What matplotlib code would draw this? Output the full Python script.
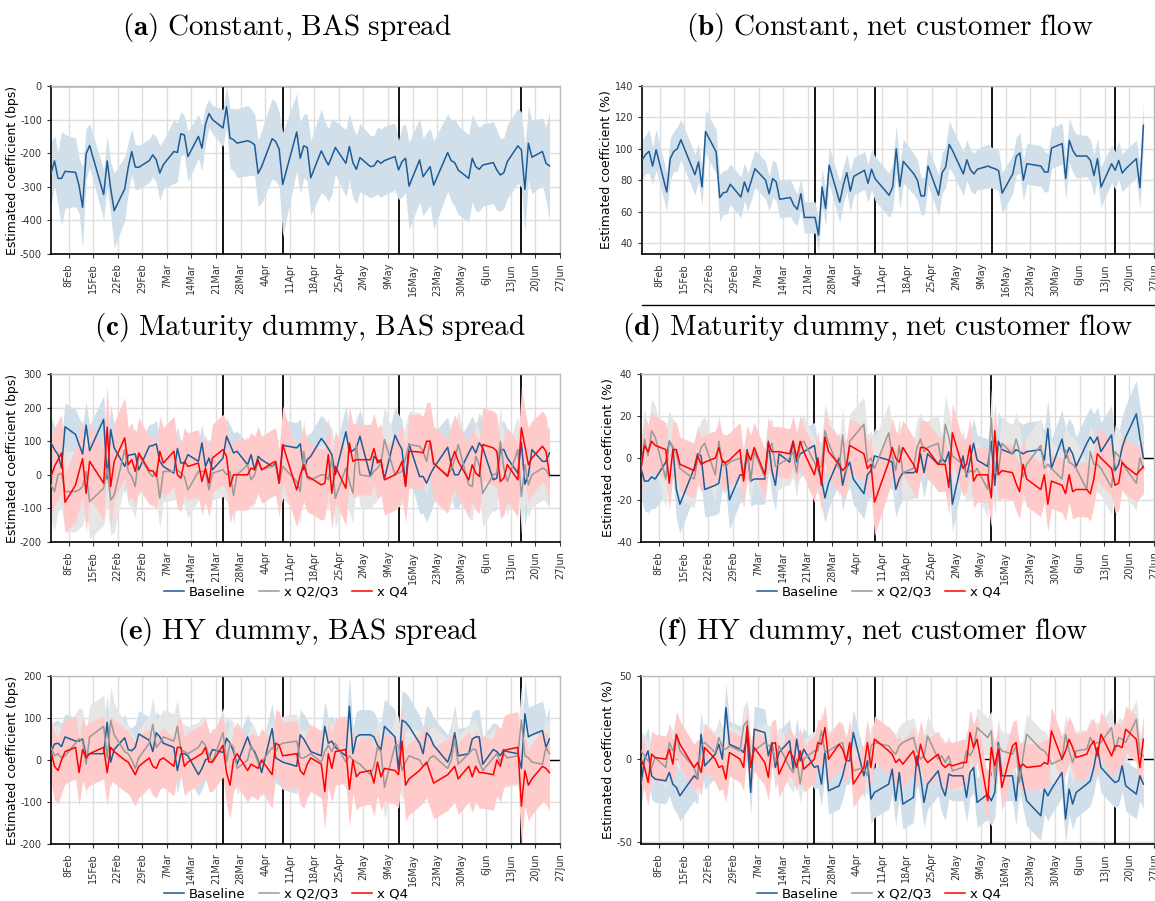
import matplotlib
matplotlib.use("Agg")
import matplotlib.pyplot as plt
from matplotlib.lines import Line2D
import numpy as np
import pandas as pd

plt.rcParams['mathtext.fontset'] = 'cm'
plt.rcParams['axes.unicode_minus'] = False

# trading days, 3 Feb - 24 Jun 2020 (no 17 Feb, 10 Apr, 25 May)
dates = pd.bdate_range("2020-02-03", "2020-06-24")
dates = dates[~dates.isin(pd.to_datetime(["2020-02-17", "2020-04-10", "2020-05-25"]))]
events = pd.to_datetime(["2020-03-23", "2020-04-09", "2020-05-12", "2020-06-16"])
ticks = pd.date_range("2020-02-08", "2020-06-27", freq="7D")
tick_labels = [f"{d.day}{d.strftime('%b')}" for d in ticks]

# (a) constant, BAS spread
a_coef = [-261, -223, -275, -275, -254, -257, -297, -361, -202, -177,
          -323, -223, -305, -371, -306, -242, -195, -241, -242,
          -222, -205, -220, -259, -234, -195, -198, -142, -146, -210,
          -150, -185, -115, -82, -100, -125, -62, -155, -160, -170,
          -163, -167, -175, -260, -240, -157, -165, -188, -293,
          -137, -215, -178, -183, -273, -193, -215, -235, -210, -183,
          -230, -180, -228, -248, -213, -240, -238, -222, -230, -222,
          -210, -250, -225, -215, -298, -220, -270, -255, -240, -295,
          -198, -222, -228, -250, -275, -215, -240, -248, -235,
          -228, -250, -265, -258, -225, -178, -190, -308, -170, -212,
          -195, -230, -238]
a_hw = [95, 75, 80, 140, 110, 102, 82, 120, 75, 65,
        75, 75, 78, 112, 95, 75, 68, 68, 65,
        65, 65, 68, 82, 72, 95, 88, 65, 58, 75,
        65, 68, 55, 42, 42, 55, 60, 90, 92, 102,
        105, 98, 92, 98, 108, 120, 118, 110, 155,
        115, 105, 95, 100, 110, 125, 110, 108, 112, 78,
        100, 100, 105, 102, 102, 92, 90, 100, 102, 102,
        100, 88, 105, 102, 130, 125, 115, 115, 115, 132,
        115, 120, 130, 132, 130, 130, 132, 125, 122,
        122, 120, 108, 105, 110, 112, 112, 130, 110, 108,
        100, 108, 162]

# (b) constant, net customer flow
b_coef = [92.7, 96.3, 98.4, 89, 99.4, 72.5, 93.7, 98.4, 100, 105.8,
          83.5, 91.6, 75.7, 111, 98, 68.9, 72, 72.5, 77.4,
          69.3, 78.9, 72.5, 80, 87.3, 80, 71.4, 81, 79, 67.8,
          69, 64, 61.4, 71.4, 56.3, 56.3, 45, 75.7, 62, 89.5,
          66, 76.7, 84.8, 73, 82.5, 86.3, 78, 87, 81,
          70.4, 75.7, 100, 76, 92, 84, 80, 70, 70, 89,
          70.4, 84.8, 88.4, 102.8, 98.6, 84, 93, 86.7, 84, 87,
          89, 88, 87.3, 86, 71.8, 84, 95.2, 97.3, 80, 90.5,
          89, 85.2, 85.2, 100.5, 103.3, 81, 105.4, 99, 95.4,
          95.4, 92.6, 83, 93.7, 75.7, 90.5, 86.3, 92.6, 84.6, 87.3,
          93.7, 75.2, 115]
b_hw = [13, 12, 14, 12, 13, 12, 13, 13, 14, 13,
        13, 12, 12, 14, 14, 15, 14, 14, 13,
        13, 12, 12, 12, 12, 12, 11, 12, 12, 12,
        12, 11, 10, 10, 10, 10, 11, 12, 11, 12,
        13, 12, 12, 13, 12, 12, 12, 13, 14,
        14, 15, 15, 14, 14, 13, 13, 12, 12, 12,
        13, 13, 13, 15, 14, 14, 13, 13, 13, 13,
        14, 13, 13, 13, 13, 12, 12, 13, 13, 13,
        13, 13, 12, 13, 13, 13, 14, 14, 14,
        13, 13, 13, 13, 13, 12, 12, 12, 12, 12,
        12, 14, 15]

# (c) maturity dummy, BAS spread
c_base = [95, 75, 60, 20, 143, 120, 90, 62, 148, 72,
          165, -12, 135, 80, 25, 58, 60, 62, 15,
          85, 87, 92, 40, 25, 5, 78, 35, 35, 60,
          40, 95, 25, 50, 15, 50, 115, 90, 65, 70,
          30, 60, 15, 55, 45, 25, 35, -25, 88,
          80, 92, 15, 45, 55, 108, 95, 78, 60, 0,
          128, 68, 72, 80, 115, -5, 55, 45, 35, -12,
          118, 95, 75, -30, 92, -5, -5, -25, 0, 20,
          82, 30, 0, 0, 65, 85, 65, 95, 80,
          -15, -10, 75, 75, 50, 5, 97, -28, 0, 75,
          40, 40, 65]
c_mid = [-30, -50, 0, 5, -50, -50, -45, -35, 10, -80,
         -40, 20, -75, -60, 75, 10, -5, -35, 60,
         5, -5, 10, -70, 10, 10, 15, 5, -5, -45,
         10, 10, 10, -45, 5, 15, 0, 10, -62, 0,
         30, -15, 0, 40, 15, 25, 30, -25, 25,
         -20, -50, 70, -10, -15, 0, 0, -15, 50, -70,
         20, -20, -55, 90, 0, -5, 10, 20, 35, 105,
         0, 5, 10, 50, 90, 85, 70, 40, 100, 30,
         0, 15, 45, 90, -30, -35, 55, 30, -55,
         0, 5, 100, 20, -20, 75, -65, 30, -30, 0,
         20, 15, -5]
c_q4 = [-5, 25, 45, 65, -82, -30, 10, 48, -55, 40,
        -25, 142, -35, 40, 110, 30, 45, 10, 65,
        12, 12, -5, 70, 35, 70, 0, -10, 40, 25,
        35, -20, 20, -25, 50, 75, 55, -35, 0, 0,
        0, 20, 15, 45, 15, 35, 40, -25, 90,
        -45, 0, 30, -5, -10, -30, -25, 60, -55, 25,
        -40, 95, 40, 45, 45, 45, 78, 35, 45, -15,
        0, 15, 40, -35, 70, 68, 65, 100, 100, 35,
        -5, 40, 70, 40, -15, 30, 5, -5, 90,
        80, 70, -20, -10, 30, -15, 140, 85, 30, 50,
        85, 70, 0]
c_base_hw = [75, 70, 80, 90, 70, 75, 80, 85, 70, 75,
             70, 90, 75, 70, 80, 70, 70, 75, 80,
             65, 65, 70, 75, 70, 75, 65, 65, 60, 60,
             60, 55, 60, 55, 60, 65, 55, 60, 60, 60,
             65, 60, 60, 60, 60, 60, 65, 70, 75,
             75, 75, 80, 75, 70, 70, 70, 75, 75, 80,
             75, 75, 70, 80, 80, 80, 75, 80, 80, 85,
             85, 85, 90, 95, 95, 110, 110, 115, 115, 105,
             90, 95, 100, 100, 90, 90, 85, 90, 85,
             95, 90, 85, 85, 85, 85, 95, 125, 90, 80,
             85, 85, 80]
c_mid_hw = [110, 115, 110, 105, 120, 120, 115, 115, 110, 110,
            110, 105, 105, 110, 100, 95, 95, 95, 95,
            90, 90, 85, 90, 90, 85, 85, 85, 85, 85,
            85, 80, 80, 80, 80, 80, 80, 80, 85, 85,
            85, 85, 85, 85, 85, 90, 90, 90, 95,
            95, 95, 95, 90, 90, 90, 90, 90, 90, 90,
            90, 90, 90, 95, 95, 95, 95, 95, 95, 100,
            100, 100, 100, 100, 100, 100, 100, 100, 100, 100,
            100, 100, 100, 100, 100, 100, 100, 100, 100,
            100, 100, 100, 100, 100, 100, 110, 100, 95, 95,
            95, 95, 95]
c_q4_hw = [110, 115, 115, 115, 90, 110, 110, 115, 115, 110,
           110, 125, 120, 115, 120, 110, 110, 105, 105,
           100, 100, 100, 105, 105, 105, 100, 100, 100, 100,
           100, 100, 100, 100, 100, 105, 105, 110, 105, 105,
           105, 105, 100, 100, 100, 100, 100, 100, 115,
           110, 110, 110, 105, 105, 105, 105, 110, 110, 105,
           110, 110, 110, 110, 105, 105, 105, 105, 105, 105,
           105, 110, 110, 110, 110, 110, 110, 115, 115, 110,
           110, 110, 110, 110, 110, 110, 110, 110, 110,
           110, 110, 110, 110, 110, 110, 120, 110, 110, 110,
           105, 105, 100]

# (d) maturity dummy, net customer flow
d_base = [-5, -11, -11, -9, -10, -2, 8, 5, -15, -22,
          -5, 2, 1, -15, -13, -12, -1, -3, -20,
          -8, -8, 4, -11, -10, -10, 8, -6, -13, 2,
          -2, 8, -2, 2, 3, 6, -5, -10, -19, -12,
          0, -13, -5, -2, -10, -17, -8, -6, 1,
          -1, -2, -15, -10, -7, -7, -6, 2, -7, 2,
          -3, 0, -2, 3, -22, 1, -9, -1, 7, -1,
          -4, 8, -13, 8, 4, 2, 4, 3, 2, 3,
          4, -1, 14, -5, 9, 0, 5, 2, -4,
          7, 10, 7, 10, 3, 11, -6, -3, 5, 10,
          21, 10, 0]
d_mid = [-5, 9, 1, 13, 10, -10, 8, 5, 2, -5,
         -10, -1, 5, 7, -8, 8, -3, -4, -2,
         0, -10, 3, -11, 3, -9, 4, 7, -4, -3,
         0, 3, -7, 7, 8, -2, -5, -4, 13, 7,
         -5, 11, -7, 8, 10, 16, -2, 0, -5,
         12, 1, -6, 6, -7, -5, 5, 9, 3, 5,
         7, -2, 16, 10, 1, -3, -8, -6, -7, -5,
         -15, 19, -7, -7, 7, 2, 9, 3, -9, -3,
         6, -5, -3, -5, -10, 4, -2, -3, -5,
         -15, 3, -3, -3, -5, -14, 3, 1, -2, -5,
         -12, 0, -5]
d_q4 = [-5, 6, 3, 8, 6, 4, -12, 4, 4, -3,
        -6, 1, -3, -2, 0, 5, -2, -2, -1,
        4, -11, 3, -1, 5, -8, 7, 3, 3, 3,
        2, 8, 0, 8, 3, -8, 0, -13, 10, 3,
        -3, -6, -4, 6, 5, 2, -5, -3, -21,
        -2, 5, 0, -2, 5, -3, -7, 5, 5, 4,
        -3, -3, -3, -14, 12, -5, -3, 6, -11, -8,
        -8, -19, 13, -8, -6, -7, -12, -16, -3, -10,
        -15, -8, -22, -11, -13, -17, -8, -16, -15,
        -15, -17, -10, 2, 0, -5, -13, -12, -2, -4,
        -8, -6, -4]
d_base_hw = [14, 14, 15, 15, 14, 15, 14, 13, 14, 14,
             13, 13, 13, 13, 14, 14, 13, 13, 14,
             13, 13, 12, 12, 12, 12, 12, 12, 12, 12,
             11, 11, 11, 11, 11, 11, 11, 12, 12, 12,
             12, 12, 12, 12, 12, 12, 12, 13, 13,
             13, 13, 13, 13, 13, 12, 12, 12, 12, 12,
             12, 12, 12, 12, 13, 12, 12, 12, 12, 12,
             13, 14, 14, 14, 14, 14, 14, 14, 14, 14,
             14, 14, 14, 14, 14, 14, 14, 14, 14,
             14, 14, 14, 14, 14, 14, 14, 15, 15, 15,
             16, 15, 15]
d_mid_hw = [14, 15, 14, 15, 15, 14, 14, 14, 14, 14,
            14, 13, 13, 13, 13, 13, 13, 13, 13,
            13, 13, 12, 12, 12, 12, 12, 12, 12, 12,
            12, 12, 12, 12, 12, 12, 12, 12, 13, 13,
            13, 13, 13, 13, 13, 13, 13, 13, 14,
            14, 14, 13, 13, 13, 13, 13, 13, 13, 13,
            13, 13, 14, 13, 13, 13, 13, 13, 13, 13,
            13, 14, 13, 13, 13, 13, 13, 13, 13, 13,
            13, 13, 13, 13, 13, 13, 13, 13, 13,
            13, 13, 13, 13, 13, 13, 13, 13, 13, 13,
            13, 13, 13]
d_q4_hw = [13, 13, 13, 14, 14, 13, 13, 13, 13, 13,
           13, 13, 13, 13, 13, 13, 13, 13, 13,
           13, 13, 12, 12, 12, 12, 12, 12, 12, 12,
           12, 12, 12, 12, 12, 13, 13, 13, 13, 13,
           13, 13, 13, 13, 13, 13, 13, 13, 16,
           14, 14, 13, 13, 13, 13, 13, 13, 13, 13,
           13, 13, 13, 13, 14, 13, 13, 13, 13, 13,
           13, 14, 14, 13, 13, 13, 13, 13, 13, 13,
           13, 13, 13, 13, 13, 13, 13, 13, 13,
           13, 13, 13, 13, 13, 13, 13, 13, 13, 13,
           13, 13, 13]

# (e) HY dummy, BAS spread
e_base = [20, 38, 40, 32, 55, 45, 45, 50, 10, 15,
          15, 90, -5, 25, 53, 25, 22, 30, 62,
          47, 20, 65, 55, 40, 30, -25, 15, 15, 10,
          -35, -20, 0, 5, 25, 18, 52, 40, 20, -10,
          55, 30, 20, 0, -30, 75, 5, 0, -5,
          -15, 60, 50, 35, 20, 10, 80, 40, 45, 30,
          10, 128, 15, 55, 60, 60, 55, 35, 25, 80,
          55, -25, 95, 90, 80, 40, 15, 65, 55, 35,
          -5, 20, 65, 10, 15, 50, 55, 55, -10,
          25, 20, 10, 25, 20, 15, -20, 110, 55, 60,
          70, 30, 50]
e_mid = [30, 10, 15, 5, 10, 40, 50, 45, -10, 55,
         80, 5, 95, 60, 20, 15, 0, -20, 5,
         40, 85, 30, 40, 55, 45, 80, 25, 20, 15,
         30, 45, 35, 10, -5, 65, -5, 40, 30, -20,
         0, 35, 15, -5, -5, 30, 20, 35, 40,
         45, 5, 5, 10, 15, -5, 20, 35, 20, 40,
         -5, 10, 0, -5, -10, -35, -15, 30, 20, -65,
         35, 35, -25, -5, 10, 0, -15, -10, 5, 10,
         -20, 0, 50, -10, 15, 25, 25, -5, -25,
         5, 15, -5, 15, 5, 10, 95, 10, 5, -5,
         -10, 30, 15]
e_q4 = [20, -15, -25, 0, 20, 30, -30, 25, 5, 15,
        30, -30, 30, 20, 0, -5, -20, -35, -15,
        5, -15, -20, 0, 5, -15, 30, 30, -15, -5,
        10, 15, 30, -5, -5, 35, -30, -60, 0, 15,
        -25, -10, -15, -20, 0, -35, 40, 35, 10,
        15, -25, -35, -10, 5, -10, -75, 15, -20, 20,
        25, -70, 0, -40, -30, -25, -55, -5, -40, -20,
        -25, -35, 45, -60, -45, -25, -15, -5, -30, -55,
        -35, -25, -15, -45, -15, -40, -15, -30, -30,
        -35, 0, -15, 20, 25, 30, -110, -25, -60, -45,
        -15, -20, -30]
e_base_hw = [60, 55, 55, 55, 55, 55, 55, 55, 60, 60,
             60, 65, 60, 55, 55, 55, 55, 55, 55,
             55, 55, 50, 50, 50, 50, 55, 55, 50, 50,
             50, 50, 50, 50, 50, 50, 50, 50, 55, 55,
             55, 55, 55, 55, 60, 60, 60, 60, 65,
             65, 60, 60, 60, 60, 60, 60, 60, 60, 60,
             60, 75, 60, 60, 60, 60, 60, 60, 65, 65,
             65, 70, 70, 70, 70, 65, 65, 65, 65, 65,
             65, 65, 65, 65, 65, 65, 65, 65, 65,
             65, 65, 65, 65, 65, 70, 70, 80, 70, 70,
             70, 70, 75]
e_mid_hw = [70, 70, 70, 70, 70, 70, 75, 75, 75, 75,
            75, 75, 80, 75, 70, 70, 70, 70, 70,
            65, 65, 65, 65, 65, 65, 65, 65, 65, 65,
            60, 60, 60, 60, 60, 60, 60, 60, 60, 60,
            60, 60, 60, 60, 60, 60, 60, 60, 65,
            65, 65, 65, 65, 65, 65, 65, 65, 65, 65,
            65, 65, 65, 65, 65, 65, 65, 65, 70, 75,
            70, 70, 70, 70, 70, 70, 70, 70, 70, 70,
            70, 70, 70, 70, 70, 70, 70, 70, 70,
            70, 70, 70, 70, 70, 70, 80, 70, 70, 70,
            70, 70, 70]
e_q4_hw = [75, 80, 80, 80, 75, 75, 80, 75, 75, 75,
           75, 80, 75, 75, 75, 75, 75, 75, 75,
           70, 70, 70, 70, 70, 70, 70, 70, 70, 70,
           70, 70, 70, 70, 70, 75, 75, 80, 75, 75,
           75, 75, 75, 75, 75, 80, 80, 80, 80,
           80, 80, 80, 80, 80, 80, 90, 80, 80, 80,
           80, 90, 80, 80, 80, 80, 80, 80, 80, 80,
           80, 80, 85, 85, 85, 85, 85, 85, 85, 85,
           85, 85, 85, 85, 85, 85, 85, 85, 85,
           85, 85, 85, 85, 85, 85, 95, 85, 85, 85,
           85, 85, 90]

# (f) HY dummy, net customer flow
f_base = [-15, 0, 5, -10, -12, -13, -8, -15, -17, -22,
          -10, -12, 15, -4, 3, 9, 0, 31, 9,
          6, 4, 14, -20, 18, 16, 2, 10, -5, 4,
          11, -6, 12, -1, 6, -5, -4, -15, 5, -19,
          -16, -10, -1, -1, 16, -10, -1, -24, -20,
          -15, -6, -25, -8, -27, -23, 2, -10, -26, -15,
          -7, -17, -22, -9, -10, -10, -23, -8, -5, -26,
          -21, -25, -20, 10, -10, -10, -25, -3, -15, -25,
          -34, -18, -22, -18, -8, -36, -18, -27, -20,
          -15, -13, -5, 7, -5, -12, -14, -13, -4, -16,
          -21, -10, -15]
f_mid = [5, 2, -1, -5, 1, -5, 10, 5, 14, 5,
         -5, -12, 8, 10, 4, 13, 7, 6, 8,
         5, 20, 23, 0, 5, 10, 8, 9, -2, 8,
         -5, -8, 0, -15, 0, 5, 5, 17, 4, 5,
         9, 10, -2, 5, -7, -5, -10, 8, 10,
         8, 5, 3, 8, 10, 13, 5, 0, 2, 14,
         0, 2, -2, 2, -7, -5, 5, 2, 6, 19,
         13, 17, -12, 8, 5, 3, 8, -14, 2, 15,
         6, 5, 2, -3, 0, 15, 5, -2, 5,
         6, 13, 9, 10, 10, 19, 5, 13, 12, 10,
         24, 3, 2]
f_q4 = [0, -5, -14, 3, 1, 0, 6, -3, 15, 9,
        -5, -2, -8, 7, 0, -5, -4, -12, 4,
        0, -5, 20, -5, 7, -2, -11, 9, 10, -9,
        5, 1, -5, 5, -6, 0, 10, 9, 19, 0,
        9, 6, -1, 10, -15, -5, 10, -5, 12,
        5, 3, -2, 0, -3, 5, -4, 9, 1, -2,
        3, -3, -5, -3, -4, -2, -2, 16, 7, 12,
        -25, 7, -4, 6, -17, 8, 10, -5, -3, -5,
        -4, -2, -3, 17, 0, 5, 12, 7, 1,
        3, 8, 11, 2, 15, 2, 8, 8, 7, 18,
        12, -5, 12]
f_base_hw = [14, 14, 14, 14, 14, 14, 14, 14, 15, 15,
             15, 15, 14, 14, 14, 14, 14, 15, 14,
             14, 14, 14, 14, 14, 14, 13, 13, 13, 13,
             13, 13, 13, 13, 13, 13, 13, 13, 13, 14,
             14, 14, 14, 14, 14, 14, 14, 15, 15,
             15, 15, 15, 15, 15, 15, 15, 15, 15, 15,
             15, 15, 15, 15, 15, 15, 15, 15, 15, 15,
             15, 15, 15, 15, 15, 15, 15, 15, 15, 15,
             15, 15, 15, 15, 15, 15, 15, 15, 15,
             15, 15, 15, 15, 15, 15, 15, 15, 15, 15,
             15, 15, 15]
f_mid_hw = [12, 12, 12, 12, 12, 12, 12, 12, 12, 12,
            12, 12, 12, 12, 12, 12, 12, 12, 12,
            12, 12, 12, 12, 12, 12, 12, 12, 12, 12,
            12, 12, 12, 12, 12, 12, 12, 12, 12, 12,
            12, 12, 12, 12, 12, 12, 12, 12, 12,
            12, 12, 12, 12, 12, 12, 12, 12, 12, 12,
            12, 12, 12, 12, 12, 12, 12, 12, 12, 12,
            12, 12, 12, 12, 12, 12, 12, 12, 12, 12,
            12, 12, 12, 12, 12, 12, 12, 12, 12,
            12, 12, 12, 12, 12, 12, 12, 12, 12, 12,
            12, 12, 12]
f_q4_hw = [14, 14, 14, 14, 14, 14, 14, 14, 14, 14,
           14, 14, 14, 14, 14, 14, 14, 14, 14,
           14, 14, 14, 14, 14, 14, 14, 14, 14, 14,
           14, 14, 14, 14, 14, 14, 14, 14, 14, 14,
           14, 14, 14, 14, 14, 14, 14, 14, 14,
           14, 14, 14, 14, 14, 14, 14, 14, 14, 14,
           14, 14, 14, 14, 14, 14, 14, 14, 14, 14,
           14, 14, 14, 14, 14, 14, 14, 14, 14, 14,
           14, 14, 14, 14, 14, 14, 14, 14, 14,
           14, 14, 14, 14, 14, 14, 14, 14, 14, 14,
           14, 14, 14]

BLUE, BLUE_FILL = "#1f5b96", "#d0dfe9"
GRAY, GRAY_FILL = "#999999", "#e6e6e6"
RED, RED_FILL = "#ff0000", "#ffcaca"


def draw(ax, series, ylim, yticks, ylabel):
    ax.axhline(0, color="k", lw=1, zorder=1)
    for ev in events:
        ax.axvline(ev, color="k", lw=1.3, zorder=1)
    for coef, hw, col, fcol, lab in series:
        coef, hw = np.array(coef, float), np.array(hw, float)
        ax.fill_between(dates, coef - hw, coef + hw, color=fcol, lw=0, zorder=2)
    for coef, hw, col, fcol, lab in series:
        ax.plot(dates, coef, color=col, lw=1.1, label=lab, zorder=3)
    ax.set_xlim(pd.Timestamp("2020-02-03"), pd.Timestamp("2020-06-27"))
    ax.set_ylim(*ylim)
    ax.set_yticks(yticks)
    ax.set_xticks(ticks)
    ax.set_xticklabels(tick_labels, rotation=90)
    ax.tick_params(labelsize=7, colors="#333333", length=3)
    ax.set_ylabel(ylabel, fontsize=9, labelpad=1)
    ax.grid(True, color="#dedede", lw=1)
    ax.set_axisbelow(True)
    for s in ["left", "bottom"]:
        ax.spines[s].set_color("black")
        ax.spines[s].set_linewidth(1.2)
    for s in ["top", "right"]:
        ax.spines[s].set_color("#bbbbbb")
        ax.spines[s].set_linewidth(1)


W, H = 1155, 901
fig = plt.figure(figsize=(W / 100, H / 100), dpi=100)


def box(x0, x1, top, bottom):
    return [x0 / W, 1 - bottom / H, (x1 - x0) / W, (bottom - top) / H]


ax_a = fig.add_axes(box(51, 560, 86, 254))
ax_b = fig.add_axes(box(642, 1154, 86, 254))
ax_c = fig.add_axes(box(51, 560, 374, 542))
ax_d = fig.add_axes(box(641, 1154, 374, 542))
ax_e = fig.add_axes(box(51, 560, 676, 844))
ax_f = fig.add_axes(box(641, 1154, 676, 844))

draw(ax_a, [(a_coef, a_hw, BLUE, BLUE_FILL, "Baseline")], (-500, 0),
     range(-500, 1, 100), "Estimated coefficient (bps)")
draw(ax_b, [(b_coef, b_hw, BLUE, BLUE_FILL, "Baseline")], (33, 140),
     range(40, 141, 20), "Estimated coefficient (%)")
draw(ax_c, [(c_base, c_base_hw, BLUE, BLUE_FILL, "Baseline"),
            (c_mid, c_mid_hw, GRAY, GRAY_FILL, "x Q2/Q3"),
            (c_q4, c_q4_hw, RED, RED_FILL, "x Q4")],
     (-200, 300), range(-200, 301, 100), "Estimated coefficient (bps)")
draw(ax_d, [(d_base, d_base_hw, BLUE, BLUE_FILL, "Baseline"),
            (d_mid, d_mid_hw, GRAY, GRAY_FILL, "x Q2/Q3"),
            (d_q4, d_q4_hw, RED, RED_FILL, "x Q4")],
     (-40, 40), range(-40, 41, 20), "Estimated coefficient (%)")
draw(ax_e, [(e_base, e_base_hw, BLUE, BLUE_FILL, "Baseline"),
            (e_mid, e_mid_hw, GRAY, GRAY_FILL, "x Q2/Q3"),
            (e_q4, e_q4_hw, RED, RED_FILL, "x Q4")],
     (-200, 200), range(-200, 201, 100), "Estimated coefficient (bps)")
draw(ax_f, [(f_base, f_base_hw, BLUE, BLUE_FILL, "Baseline"),
            (f_mid, f_mid_hw, GRAY, GRAY_FILL, "x Q2/Q3"),
            (f_q4, f_q4_hw, RED, RED_FILL, "x Q4")],
     (-51, 50), [-50, 0, 50], "Estimated coefficient (%)")

titles = [(287, 27, r"$\mathbf{(a)}\ \mathrm{Constant{,}\ BAS\ spread}$"),
          (890, 27, r"$\mathbf{(b)}\ \mathrm{Constant{,}\ net\ customer\ flow}$"),
          (310, 328, r"$\mathbf{(c)}\ \mathrm{Maturity\ dummy{,}\ BAS\ spread}$"),
          (877, 328, r"$\mathbf{(d)}\ \mathrm{Maturity\ dummy{,}\ net\ customer\ flow}$"),
          (298, 632, r"$\mathbf{(e)}\ \mathrm{HY\ dummy{,}\ BAS\ spread}$"),
          (872, 632, r"$\mathbf{(f)}\ \mathrm{HY\ dummy{,}\ net\ customer\ flow}$")]
for x, y, t in titles:
    fig.text(x / W, 1 - y / H, t, ha="center", va="center", fontsize=21)

for ax, x, y in [(ax_c, 286, 592), (ax_d, 879, 592), (ax_e, 286, 894), (ax_f, 879, 894)]:
    h, l = ax.get_legend_handles_labels()
    fig.legend(h, l, loc="center", bbox_to_anchor=(x / W, 1 - y / H), ncol=3,
               frameon=False, fontsize=9.5, handlelength=1.5, columnspacing=1.0,
               handletextpad=0.4)

fig.add_artist(Line2D([642 / W, 1], [1 - 305 / H, 1 - 305 / H], color="k", lw=1))

fig.savefig("out.png", dpi=100)
